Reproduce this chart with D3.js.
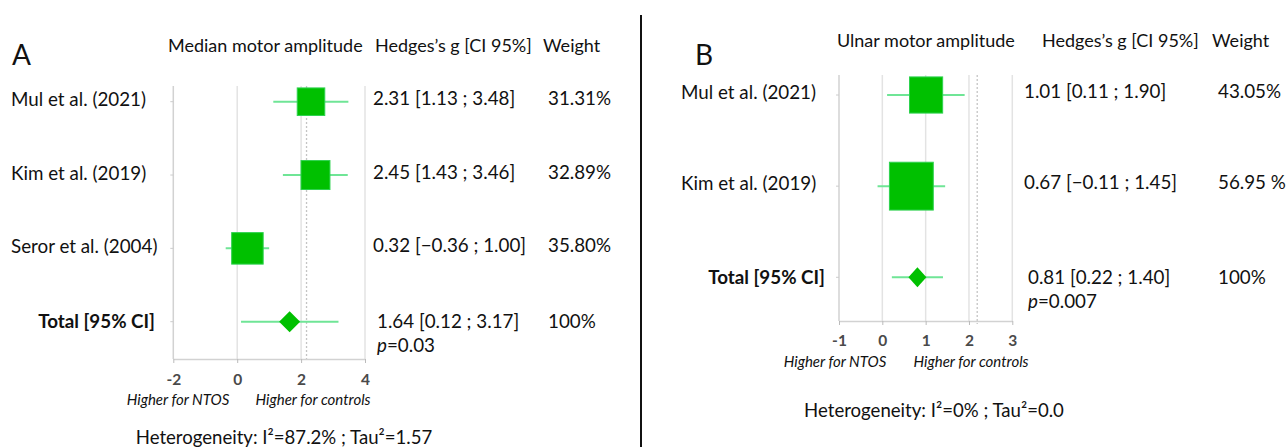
<!DOCTYPE html>
<html>
<head>
<meta charset="utf-8">
<script src="https://cdn.jsdelivr.net/npm/d3@7"></script>
<style>
  html, body { margin: 0; padding: 0; background: #fff; }
  svg { display: block; font-family: Lato, "Open Sans", sans-serif; }
</style>
</head>
<body>
<svg id="chart" width="1287" height="447"></svg>
<script>
// ---------- DATA ----------
// Panel A: median motor amplitude
const studiesA = ["Mul et al. (2021)", "Kim et al. (2019)", "Seror et al. (2004)"];
const gA = [2.31, 2.45, 0.32];
const loA = [1.13, 1.43, -0.36];
const hiA = [3.48, 3.46, 1.00];
const weightA = [31.31, 32.89, 35.80];
const weightLabelA = ["31.31%", "32.89%", "35.80%"];
const pooledA = [1.64, 0.12, 3.17];      // g, lower, upper
const pooledWeightA = "100%";
const pA = "0.03";
const ticksA = [-2, 0, 2, 4];
const refA = 2.17;
const hetA = "Heterogeneity: I²=87.2% ; Tau²=1.57";

// Panel B: ulnar motor amplitude
const studiesB = ["Mul et al. (2021)", "Kim et al. (2019)"];
const gB = [1.01, 0.67];
const loB = [0.11, -0.11];
const hiB = [1.90, 1.45];
const weightB = [43.05, 56.95];
const weightLabelB = ["43.05%", "56.95 %"];
const pooledB = [0.81, 0.22, 1.40];
const pooledWeightB = "100%";
const pB = "0.007";
const ticksB = [-1, 0, 1, 2, 3];
const refB = 2.19;
const hetB = "Heterogeneity: I²=0% ; Tau²=0.0";

const totalLabel = "Total [95% CI]";
const colHeader = "Hedges’s g [CI 95%]";
const weightHeader = "Weight";
const leftCaption = "Higher for NTOS";
const rightCaption = "Higher for controls";

// ---------- DRAW ----------
const svg = d3.select("#chart");
const fmt = d3.format(".2f");
const SQUARE = "#00c000", SQUARE_STROKE = "#2ed24f", CI = "#6fe596";
const GRID = "#e3e3e3", AXIS = "#d2d2d2", TXT = "#111", TICK_TXT = "#4a4a4a";
const FS_LAB = 18.8, FS_HEAD = 18, FS_CAP = 15, FS_HET = 18.6;

function drawPanel(o) {
  const g = svg.append("g");
  const x = d3.scaleLinear().domain(o.domain).range(o.xRange);
  const rows = o.studies.concat([totalLabel]);
  const y = d3.scalePoint().domain(rows).range(o.yRows);
  const wS = d3.scaleLinear().domain([0, 100]).range([0, o.sqW]);
  const hS = d3.scaleLinear().domain([0, 100]).range([0, o.sqH]);

  // gridlines
  g.selectAll(".grid").data(o.ticks).join("line")
    .attr("x1", d => x(d)).attr("x2", d => x(d))
    .attr("y1", o.top).attr("y2", o.axisY)
    .attr("stroke", (d, i) => i === 0 ? AXIS : GRID).attr("stroke-width", 1.5);
  // dotted reference line
  g.append("line")
    .attr("x1", x(o.ref)).attr("x2", x(o.ref))
    .attr("y1", o.top).attr("y2", o.axisY + 3)
    .attr("stroke", "#c4c4c4").attr("stroke-width", 1.3)
    .attr("stroke-dasharray", "2,2");

  // bottom axis
  const axis = d3.axisBottom(x).tickValues(o.ticks).tickFormat(d => String(d)).tickSize(4).tickSizeOuter(0);
  const ax = g.append("g").attr("transform", `translate(0,${o.axisY})`).call(axis);
  ax.select(".domain").attr("stroke", AXIS).attr("stroke-width", 1.5);
  ax.selectAll(".tick line").attr("stroke", "#bbb");
  ax.selectAll(".tick text").attr("fill", TICK_TXT).attr("font-size", 15.5).attr("font-weight", "bold")
    .attr("font-family", "Lato, sans-serif").attr("y", o.tickLabelDy).attr("dy", "0.35em");
  // left axis ticks at rows
  g.selectAll(".ltick").data(rows).join("line")
    .attr("x1", o.xRange[0] - 3).attr("x2", o.xRange[0])
    .attr("y1", d => y(d)).attr("y2", d => y(d))
    .attr("stroke", "#ccc");

  // CI lines
  const ciData = o.studies.map((s, i) => ({ s, g: o.g[i], lo: o.lo[i], hi: o.hi[i], w: o.w[i], wl: o.wl[i] }));
  g.selectAll(".ci").data(ciData).join("line")
    .attr("x1", d => x(d.lo)).attr("x2", d => x(d.hi))
    .attr("y1", d => y(d.s)).attr("y2", d => y(d.s))
    .attr("stroke", CI).attr("stroke-width", 2);
  g.selectAll(".sq").data(ciData).join("rect")
    .attr("x", d => x(d.g) - wS(d.w) / 2).attr("y", d => y(d.s) - hS(d.w) / 2)
    .attr("width", d => wS(d.w)).attr("height", d => hS(d.w))
    .attr("fill", SQUARE).attr("stroke", SQUARE_STROKE).attr("stroke-width", 1);

  // pooled
  const ty = y(totalLabel);
  g.append("line").attr("x1", x(o.pooled[1])).attr("x2", x(o.pooled[2]))
    .attr("y1", ty).attr("y2", ty).attr("stroke", CI).attr("stroke-width", 2);
  const px = x(o.pooled[0]);
  g.append("path")
    .attr("d", `M${px - o.dw},${ty} L${px},${ty - o.dh} L${px + o.dw},${ty} L${px},${ty + o.dh} Z`)
    .attr("fill", SQUARE);

  // labels
  g.selectAll(".lab").data(ciData).join("text")
    .attr("x", o.labelX).attr("y", d => y(d.s)).attr("dy", o.labDy)
    .attr("font-size", FS_LAB).attr("fill", TXT).text(d => d.s);
  g.append("text").attr("x", o.totalX).attr("y", ty).attr("dy", "0.35em")
    .attr("text-anchor", "end").attr("font-weight", "bold")
    .attr("font-size", FS_LAB).attr("fill", TXT).text(totalLabel);

  // values
  g.selectAll(".val").data(ciData).join("text")
    .attr("x", o.valX).attr("y", d => y(d.s)).attr("dy", o.valDy)
    .attr("font-size", FS_LAB).attr("fill", TXT)
    .text(d => `${fmt(d.g)} [${fmt(d.lo)} ; ${fmt(d.hi)}]`);
  g.selectAll(".wt").data(ciData).join("text")
    .attr("x", o.wX).attr("y", d => y(d.s)).attr("dy", o.valDy)
    .attr("font-size", FS_LAB).attr("fill", TXT).text(d => d.wl);
  g.append("text").attr("x", o.valTX).attr("y", ty).attr("dy", "0.35em")
    .attr("font-size", FS_LAB).attr("fill", TXT)
    .text(`${fmt(o.pooled[0])} [${fmt(o.pooled[1])} ; ${fmt(o.pooled[2])}]`);
  g.append("text").attr("x", o.wX).attr("y", ty).attr("dy", "0.35em")
    .attr("font-size", FS_LAB).attr("fill", TXT).text(o.pooledW);
  const pt = g.append("text").attr("x", o.valTX).attr("y", ty + o.pDy).attr("dy", "0.35em")
    .attr("font-size", FS_LAB).attr("fill", TXT);
  pt.append("tspan").attr("font-style", "italic").text("p");
  pt.append("tspan").text("=" + o.p);

  // headers
  g.append("text").attr("x", o.letterX).attr("y", 65).attr("font-size", 28).attr("fill", TXT).text(o.letter);
  g.append("text").attr("x", o.titleX).attr("y", o.headY).attr("font-size", FS_HEAD).attr("fill", TXT).text(o.title);
  g.append("text").attr("x", o.hgX).attr("y", o.headY).attr("font-size", FS_HEAD).attr("fill", TXT).text(colHeader);
  g.append("text").attr("x", o.hwX).attr("y", o.headY).attr("font-size", FS_HEAD).attr("fill", TXT).text(weightHeader);

  // captions
  g.append("text").attr("x", o.capL).attr("y", o.capY).attr("dy", "0.35em").attr("text-anchor", "middle")
    .attr("font-style", "italic").attr("font-size", FS_CAP).attr("fill", TXT).text(leftCaption);
  g.append("text").attr("x", o.capR).attr("y", o.capY).attr("dy", "0.35em").attr("text-anchor", "middle")
    .attr("font-style", "italic").attr("font-size", FS_CAP).attr("fill", TXT).text(rightCaption);
  g.append("text").attr("x", o.hetX).attr("y", o.hetY).attr("dy", "0.35em").attr("text-anchor", "middle")
    .attr("font-size", FS_HET).attr("fill", TXT).text(o.het);
}

drawPanel({
  letter: "A", letterX: 12, title: "Median motor amplitude", titleX: 168, hgX: 375, hwX: 543, headY: 52,
  studies: studiesA, g: gA, lo: loA, hi: hiA, w: weightA, wl: weightLabelA,
  pooled: pooledA, pooledW: pooledWeightA, p: pA, ticks: ticksA, ref: refA, het: hetA,
  domain: [-2, 4], xRange: [173.3, 365], yRows: [101.7, 321.7], top: 86, axisY: 359,
  sqW: 88, sqH: 88, dw: 10.5, dh: 10.5,
  labelX: 11, labDy: "0.25em", totalX: 155, valX: 373, valTX: 377, valDy: "0.2em", wX: 548, pDy: 24,
  tickLabelDy: 21, capL: 178, capR: 313, capY: 400, hetX: 284, hetY: 437
});
drawPanel({
  letter: "B", letterX: 695, title: "Ulnar motor amplitude", titleX: 837, hgX: 1042, hwX: 1212, headY: 47,
  studies: studiesB, g: gB, lo: loB, hi: hiB, w: weightB, wl: weightLabelB,
  pooled: pooledB, pooledW: pooledWeightB, p: pB, ticks: ticksB, ref: refB, het: hetB,
  domain: [-1, 3], xRange: [839, 1012.3], yRows: [95, 277.3], top: 75, axisY: 321,
  sqW: 77, sqH: 84, dw: 9, dh: 10,
  labelX: 681, labDy: "0.2em", totalX: 825, valX: 1024, valTX: 1028, valDy: "0.15em", wX: 1218, pDy: 24,
  tickLabelDy: 20, capL: 835, capR: 971, capY: 362, hetX: 934, hetY: 410
});

// separator
svg.append("line").attr("x1", 641).attr("x2", 641).attr("y1", 15).attr("y2", 447)
  .attr("stroke", "#111").attr("stroke-width", 2);
</script>
</body>
</html>
